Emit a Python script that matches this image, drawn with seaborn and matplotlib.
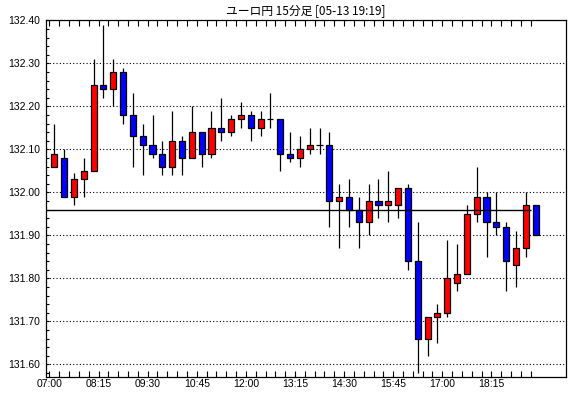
import numpy as np
import matplotlib
matplotlib.use("Agg")
import matplotlib.pyplot as plt
import seaborn as sns

# ---- data ----
opens = [132.06, 132.08, 131.99, 132.03, 132.05, 132.25, 132.24, 132.28, 132.18, 132.13,
         132.11, 132.09, 132.06, 132.12, 132.08, 132.14, 132.09, 132.15, 132.14, 132.17,
         132.18, 132.15, 132.17, 132.17, 132.09, 132.08, 132.10, 132.11, 132.11, 131.98,
         131.99, 131.96, 131.93, 131.98, 131.97, 131.97, 132.01, 131.84, 131.66, 131.71,
         131.72, 131.79, 131.81, 131.95, 131.99, 131.93, 131.92, 131.83, 131.87, 131.97]
highs = [132.16, 132.10, 132.045, 132.08, 132.31, 132.39, 132.31, 132.29, 132.23, 132.16,
         132.18, 132.12, 132.19, 132.13, 132.20, 132.14, 132.19, 132.22, 132.18, 132.21,
         132.19, 132.19, 132.23, 132.17, 132.14, 132.13, 132.15, 132.15, 132.14, 132.02,
         132.03, 131.99, 132.02, 132.03, 132.05, 132.01, 132.02, 131.93, 131.71, 131.74,
         131.89, 131.88, 131.97, 132.06, 132.00, 132.00, 131.93, 131.91, 132.00, 131.97]
lows = [132.06, 131.99, 131.97, 131.99, 132.05, 132.22, 132.20, 132.16, 132.06, 132.04,
        132.08, 132.04, 132.04, 132.04, 132.08, 132.06, 132.08, 132.12, 132.13, 132.15,
        132.12, 132.13, 132.15, 132.05, 132.07, 132.06, 132.09, 132.09, 131.92, 131.87,
        131.92, 131.87, 131.90, 131.94, 131.93, 131.94, 131.82, 131.58, 131.62, 131.65,
        131.71, 131.77, 131.81, 131.93, 131.85, 131.90, 131.77, 131.78, 131.85, 131.90]
closes = [132.09, 131.99, 132.03, 132.05, 132.25, 132.24, 132.28, 132.18, 132.13, 132.11,
          132.09, 132.06, 132.12, 132.08, 132.14, 132.09, 132.15, 132.14, 132.17, 132.18,
          132.15, 132.17, 132.17, 132.09, 132.08, 132.10, 132.11, 132.11, 131.98, 131.99,
          131.96, 131.93, 131.98, 131.97, 131.98, 132.01, 131.84, 131.66, 131.71, 131.72,
          131.80, 131.81, 131.95, 131.99, 131.93, 131.92, 131.84, 131.87, 131.97, 131.90]
time_labels = ["07:00", "08:15", "09:30", "10:45", "12:00",
               "13:15", "14:30", "15:45", "17:00", "18:15"]
current_price = 131.96
title_text = "ユーロ円 15分足 [05-13 19:19]"

# ---- style ----
sns.set_theme(style="white")
plt.rcParams['font.family'] = ['Noto Sans CJK JP', 'DejaVu Sans']

W, H = 570, 398
fig = plt.figure(figsize=(W / 100, H / 100), dpi=100)
fig.patch.set_facecolor("white")
L, R, T, B = 45.7, 566.0, 20.3, 377.0
ax = fig.add_axes([L / W, 1 - B / H, (R - L) / W, (B - T) / H])
ax.set_facecolor("white")

n = len(opens)
x = np.arange(n)
o = np.array(opens); c = np.array(closes)
hi = np.array(highs); lo = np.array(lows)
colors = np.where(c >= o, "#FF0000", "#0000FF")

ax.vlines(x, lo, hi, color="black", lw=0.9, zorder=2)
ax.bar(x, np.abs(c - o), bottom=np.minimum(o, c), width=0.62,
       color=colors, edgecolor="black", linewidth=0.9, zorder=3)

ax.set_xlim(-0.875, 52.09)
ax.set_ylim(131.5705, 132.40)

ax.hlines(current_price, -0.875, n - 1.5, color="black", lw=1.0, zorder=4)

# grid & ticks
yt = np.round(np.arange(131.60, 132.401, 0.10), 2)
ax.set_yticks(yt)
ax.set_yticklabels([f"{v:.2f}" for v in yt])
ax.set_yticks(np.arange(131.58, 132.40, 0.02), minor=True)
ax.grid(axis="y", which="major", linestyle=(0, (1, 2)), color="black", lw=0.8)
ax.grid(axis="x", visible=False)

major_x = [5 * k - 0.5 for k in range(len(time_labels))]
ax.set_xticks(major_x)
ax.set_xticklabels(time_labels)
ax.set_xticks([i - 0.5 for i in range(n)], minor=True)

ax.tick_params(axis="y", which="both", direction="in", length=2.2, width=0.8,
               left=True, right=False, labelsize=7.5, pad=4, colors="black")
ax.tick_params(axis="x", which="both", direction="in", length=4, width=0.8,
               top=True, bottom=True, labeltop=False, labelsize=7.5, pad=1.5,
               colors="black")
for lab in ax.get_xticklabels() + ax.get_yticklabels():
    lab.set_family(["Liberation Sans", "DejaVu Sans"])

for s in ax.spines.values():
    s.set_color("black")
    s.set_linewidth(0.9)
    s.set_visible(True)

ax.set_title(title_text, fontsize=8.5, pad=3.5, color="black")

fig.savefig("out.png", dpi=100, facecolor="white")
